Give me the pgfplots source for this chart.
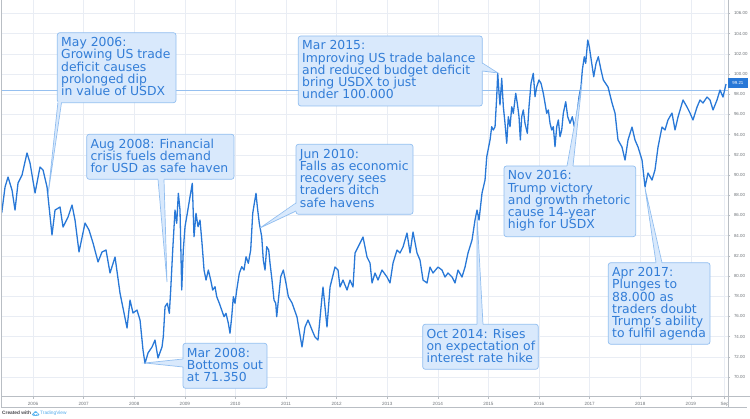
\documentclass[border=0pt]{standalone}
\usepackage{pgfplots}
\pgfplotsset{compat=1.18}
\usepackage{fontspec}
\setmainfont{DejaVu Sans}
\newfontfamily\tickfont{Liberation Sans}
\definecolor{usdline}{RGB}{40,120,215}
\definecolor{annot}{RGB}{50,125,215}
\definecolor{boxfill}{RGB}{217,233,252}
\definecolor{boxdraw}{RGB}{145,190,240}
\definecolor{gridc}{RGB}{233,237,244}
\definecolor{framec}{RGB}{185,190,196}
\definecolor{tickc}{RGB}{110,115,120}
\definecolor{priceln}{RGB}{150,192,240}
\definecolor{credit}{RGB}{70,70,75}
\definecolor{tvcloud}{RGB}{90,180,240}
\definecolor{tvtext}{RGB}{80,170,235}
\newcommand{\annotfont}{\fontsize{12.4bp}{12.3bp}\selectfont}
\newcommand{\annlines}[3]{%
  \foreach \l [count=\i from 0] in {#3} {%
    \node[anchor=base west, inner sep=0, text=annot, font=\annotfont] at ({#1},{#2+12.3*\i}) {\l};}}
\begin{document}
\begin{tikzpicture}
\useasboundingbox (0,0) rectangle (750bp,419bp);
\begin{axis}[
  at={(2bp,23bp)}, anchor=south west,
  width=726bp, height=396bp, scale only axis,
  xmin=2005.387, xmax=2019.735, ymin=68.12, ymax=107.33,
  axis line style={draw=none},
  xtick={2006,2007,2008,2009,2010,2011,2012,2013,2014,2015,2016,2017,2018,2019,2019.67},
  xticklabels={2006,2007,2008,2009,2010,2011,2012,2013,2014,2015,2016,2017,2018,2019,Sep},
  ytick={70,72,...,106},
  xtick pos=bottom, ytick pos=right, yticklabel pos=right,
  grid=major, major grid style={gridc, line width=0.6bp},
  tick style={framec, line width=0.5bp},
  major tick length=2.5bp, tick align=outside,
  xticklabel style={font=\tickfont\fontsize{4.6bp}{5bp}\selectfont, text=tickc},
  yticklabel style={font=\tickfont\fontsize{4.4bp}{5bp}\selectfont, text=tickc, anchor=west,
    /pgf/number format/.cd, fixed, fixed zerofill, precision=2, assume math mode=true},
  scaled y ticks=false,
  clip=true,
]
\addplot[priceln, line width=0.6bp] coordinates {(2005.387,98.35) (2019.735,98.35)};
\addplot[usdline, line width=1.3bp, line join=round] coordinates {
(2005.381,86.24) (2005.447,88.81) (2005.506,89.80) (2005.585,88.51) (2005.644,86.53)
(2005.704,89.21) (2005.783,90.00) (2005.881,92.18) (2005.941,91.19) (2006.040,88.22)
(2006.138,90.79) (2006.198,90.50) (2006.277,88.81) (2006.375,84.06) (2006.435,86.53)
(2006.534,86.83) (2006.593,84.85) (2006.692,85.84) (2006.771,87.03) (2006.830,85.54)
(2006.909,82.38) (2007.028,85.25) (2007.107,84.55) (2007.186,83.27) (2007.285,81.39)
(2007.364,82.38) (2007.443,82.57) (2007.522,80.30) (2007.621,81.88) (2007.719,78.32)
(2007.858,74.85) (2007.917,77.62) (2007.976,76.34) (2008.055,76.63) (2008.115,75.64)
(2008.174,72.67) (2008.213,71.35) (2008.273,72.38) (2008.352,72.97) (2008.411,73.66)
(2008.470,71.88) (2008.549,72.97)
(2008.575,73.99) (2008.609,76.96) (2008.654,77.30) (2008.694,76.31) (2008.721,78.61)
(2008.761,82.57) (2008.806,86.53) (2008.840,85.22) (2008.872,88.19) (2008.905,86.53)
(2008.939,78.61) (2008.970,82.57) (2009.004,84.88) (2009.049,86.21) (2009.103,87.85)
(2009.148,89.18) (2009.182,83.89) (2009.221,86.21) (2009.261,84.88) (2009.300,85.54)
(2009.340,83.24) (2009.380,80.59) (2009.419,79.60) (2009.465,80.59) (2009.512,79.60)
(2009.551,78.61) (2009.597,78.94) (2009.631,77.95) (2009.682,77.30) (2009.729,76.63)
(2009.775,75.97) (2009.814,76.31) (2009.860,75.32) (2009.893,74.33) (2009.927,75.97)
(2009.959,77.95) (2009.992,77.30) (2010.026,78.61) (2010.077,80.27) (2010.125,80.92)
(2010.170,80.59) (2010.210,81.91) (2010.255,81.26) (2010.302,82.57) (2010.342,86.21)
(2010.374,87.20) (2010.407,88.19) (2010.433,86.86) (2010.472,85.22) (2010.520,83.89)
(2010.551,81.58) (2010.585,80.59) (2010.619,82.90) (2010.658,82.57) (2010.684,81.26)
(2010.723,79.60) (2010.763,77.62) (2010.797,77.30) (2010.816,75.97) (2010.856,77.95)
(2010.895,79.93) (2010.947,80.59) (2011.000,79.28) (2011.046,77.95)
(2011.119,77.33) (2011.217,75.94) (2011.316,72.97)
(2011.375,74.95) (2011.435,75.64) (2011.514,74.65) (2011.573,73.96) (2011.632,73.66)
(2011.711,77.92) (2011.731,78.91) (2011.810,74.95) (2011.870,78.91) (2011.968,80.89)
(2012.028,80.59) (2012.067,78.91) (2012.126,79.60) (2012.206,78.61) (2012.265,79.60)
(2012.324,78.91) (2012.364,82.28) (2012.423,82.87) (2012.522,83.86) (2012.601,81.88)
(2012.660,81.29) (2012.700,79.31) (2012.759,80.30) (2012.818,79.60) (2012.897,80.59)
(2012.996,79.90) (2013.055,79.31) (2013.115,81.29) (2013.194,82.57) (2013.253,82.28)
(2013.312,82.87) (2013.391,84.26) (2013.451,82.28) (2013.510,84.36) (2013.589,82.28)
(2013.648,81.58) (2013.708,79.60) (2013.787,79.31) (2013.846,80.89) (2013.905,80.30)
(2014.004,80.89) (2014.083,80.59) (2014.142,79.90) (2014.202,80.30) (2014.281,79.90)
(2014.340,79.31) (2014.399,80.59) (2014.478,79.90) (2014.538,80.89) (2014.597,82.28)
(2014.676,83.56) (2014.735,85.54) (2014.775,86.53) (2014.814,85.54) (2014.874,88.22)
(2014.933,89.50) (2014.967,91.81) (2015.032,93.47) (2015.065,94.78) (2015.097,94.46)
(2015.131,94.78) (2015.164,97.75) (2015.184,100.07) (2015.210,98.09) (2015.229,96.93)
(2015.263,99.57) (2015.295,96.76) (2015.328,95.12) (2015.362,93.14) (2015.393,95.77)
(2015.427,94.78) (2015.461,96.76) (2015.492,96.11) (2015.540,98.09) (2015.571,97.10)
(2015.605,95.77) (2015.631,93.47) (2015.658,95.77) (2015.690,96.44) (2015.723,95.12)
(2015.769,94.13) (2015.802,96.76) (2015.842,99.08) (2015.887,100.07) (2015.921,97.75)
(2015.955,98.74) (2016.000,99.41) (2016.040,99.08) (2016.085,98.09) (2016.119,97.10)
(2016.152,96.11) (2016.184,96.44) (2016.218,95.12) (2016.251,94.46) (2016.283,94.78)
(2016.316,92.80) (2016.350,94.78) (2016.382,95.45) (2016.415,93.79) (2016.449,94.46)
(2016.480,96.11) (2016.528,97.26) (2016.567,95.77) (2016.613,95.12) (2016.658,95.77)
(2016.698,94.78) (2016.745,95.77) (2016.791,97.75) (2016.830,98.74) (2016.856,100.40)
(2016.895,101.71) (2016.923,101.06) (2016.963,103.37) (2016.994,102.70) (2017.042,101.06)
(2017.081,99.73) (2017.127,101.06) (2017.172,101.71) (2017.225,100.40) (2017.271,99.41)
(2017.364,98.71) (2017.443,97.13) (2017.502,96.14) (2017.561,93.47)
(2017.640,92.77) (2017.700,91.48) (2017.759,93.47) (2017.838,94.75) (2017.897,93.47)
(2017.957,92.77) (2018.036,91.48) (2018.095,88.81) (2018.154,90.20) (2018.233,89.50)
(2018.292,90.50) (2018.352,92.77) (2018.431,94.75) (2018.490,94.46) (2018.549,95.45)
(2018.628,96.14) (2018.688,94.46) (2018.747,95.74) (2018.846,97.43) (2018.925,96.73)
(2018.984,96.14) (2019.043,95.45) (2019.123,96.73) (2019.182,97.43) (2019.241,97.13)
(2019.320,97.72) (2019.379,97.43) (2019.439,96.44) (2019.518,97.43) (2019.577,98.42)
(2019.636,97.72) (2019.696,99.01)
};
\end{axis}
\begin{scope}[x=1bp, y=-1bp, shift={(0bp,419bp)}]
% frame
\draw[framec, line width=0.6bp] (1.5,0) -- (1.5,407) -- (747,407);
\draw[framec, line width=0.6bp] (1.5,396) -- (750,396);
\draw[framec, line width=0.6bp] (728,0) -- (728,407);
% price label
\fill[usdline] (728.3,78.5) rectangle (747.5,88);
\node[anchor=center, inner sep=0, text=white, font=\tickfont\fontsize{4.4bp}{5bp}\selectfont] at (737.9,83.3) {99.21};
% credit
\node[anchor=west, inner sep=0, text=credit, font=\tickfont\bfseries\fontsize{4.8bp}{5bp}\selectfont] at (2,413) {Created with};
\fill[tvcloud] (33.5,414.5) circle (1.6) (35.6,413.2) circle (2) (37.8,414.5) circle (1.5) (33.5,413) rectangle (37.8,416);
\node[anchor=west, inner sep=0, text=tvtext, font=\tickfont\fontsize{4.8bp}{5bp}\selectfont] at (40,413) {TradingView};
% May 2006
\draw[boxdraw, fill=boxfill, line width=0.7bp, rounded corners=2.5] (57.3,32.7) rectangle (176,102.7);
\fill[boxfill] (57.9,101.5) -- (48,195) -- (61.5,101.5) -- cycle;
\draw[boxdraw, line width=0.7bp] (57.9,102.7) -- (48,195) -- (61.5,102.7);
\annlines{61}{46.5}{May 2006:,Growing US trade,deficit causes,prolonged dip,in value of USDX}
% Aug 2008
\draw[boxdraw, fill=boxfill, line width=0.7bp, rounded corners=2.5] (86.7,134.3) rectangle (234,179.3);
\fill[boxfill] (158,178) -- (167,282) -- (164,178) -- cycle;
\draw[boxdraw, line width=0.7bp] (158,179.3) -- (167,282) -- (164,179.3);
\annlines{90.4}{148.2}{Aug 2008: Financial,crisis fuels demand,for USD as safe haven}
% Mar 2008
\draw[boxdraw, fill=boxfill, line width=0.7bp, rounded corners=2.5] (183,343.3) rectangle (267,388.3);
\fill[boxfill] (184.2,359) -- (145,363) -- (184.2,367) -- cycle;
\draw[boxdraw, line width=0.7bp] (183,359) -- (145,363) -- (183,367);
\annlines{186.7}{357.2}{Mar 2008:,Bottoms out,at 71.350}
% Jun 2010
\draw[boxdraw, fill=boxfill, line width=0.7bp, rounded corners=2.5] (296,144.3) rectangle (413,214.3);
\fill[boxfill] (297.2,203) -- (260,228) -- (297.2,211) -- cycle;
\draw[boxdraw, line width=0.7bp] (296,203) -- (260,228) -- (296,211);
\annlines{299.7}{158.1}{Jun 2010:,Falls as economic,recovery sees,traders ditch,safe havens}
% Mar 2015
\draw[boxdraw, fill=boxfill, line width=0.7bp, rounded corners=2.5] (298.3,36) rectangle (482.3,106);
\fill[boxfill] (481.1,63) -- (498,73) -- (481.1,71) -- cycle;
\draw[boxdraw, line width=0.7bp] (482.3,63) -- (498,73) -- (482.3,71);
\annlines{302}{49.8}{Mar 2015:,Improving US trade balance,and reduced budget deficit,bring USDX to just,under 100.000}
% Oct 2014
\draw[boxdraw, fill=boxfill, line width=0.7bp, rounded corners=2.5] (422.7,324.3) rectangle (538.3,369.3);
\fill[boxfill] (477,325.5) -- (477,215) -- (483,325.5) -- cycle;
\draw[boxdraw, line width=0.7bp] (477,324.3) -- (477,215) -- (483,324.3);
\annlines{426.4}{338.1}{Oct 2014: Rises,on expectation of,interest rate hike}
% Nov 2016
\draw[boxdraw, fill=boxfill, line width=0.7bp, rounded corners=2.5] (504,166) rectangle (635.7,236.7);
\fill[boxfill] (567,167.2) -- (582,83) -- (573,167.2) -- cycle;
\draw[boxdraw, line width=0.7bp] (567,166) -- (582,83) -- (573,166);
\annlines{507.7}{179.8}{Nov 2016:,Trump victory,and growth rhetoric,cause 14-year,high for USDX}
% Apr 2017
\draw[boxdraw, fill=boxfill, line width=0.7bp, rounded corners=2.5] (608.3,262.7) rectangle (710,344.3);
\fill[boxfill] (656,263.9) -- (645,188) -- (662,263.9) -- cycle;
\draw[boxdraw, line width=0.7bp] (656,262.7) -- (645,188) -- (662,262.7);
\annlines{612}{276.5}{Apr 2017:,Plunges to,88.000 as,traders doubt,Trump's ability,to fulfil agenda}
\end{scope}
\end{tikzpicture}
\end{document}
